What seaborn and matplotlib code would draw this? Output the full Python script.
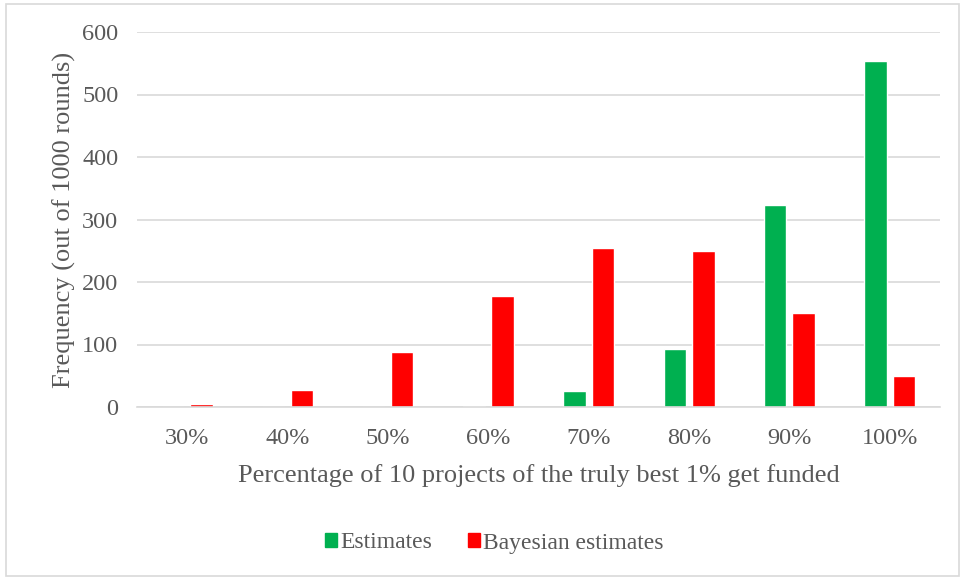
import matplotlib
matplotlib.use("Agg")
import matplotlib.pyplot as plt
import seaborn as sns
import pandas as pd
from matplotlib.patches import Rectangle

categories = ["30%", "40%", "50%", "60%", "70%", "80%", "90%", "100%"]
estimates = [0, 0, 0, 2, 26, 93, 324, 553]
bayesian = [5, 27, 88, 178, 254, 250, 150, 50]
series_names = ["Estimates", "Bayesian estimates"]
yticks = [0, 100, 200, 300, 400, 500, 600]

df = pd.DataFrame({
    "cat": categories * 2,
    "value": estimates + bayesian,
    "series": [series_names[0]] * len(categories) + [series_names[1]] * len(categories),
})

sns.set_theme(style="white")
plt.rcParams["font.family"] = ["Liberation Serif", "DejaVu Serif"]
txt = "#595959"

fig = plt.figure(figsize=(9.61, 5.77), dpi=100)
ax = fig.add_axes([137 / 961, 1 - 407 / 577, (940 - 137) / 961, (407 - 32) / 577])

sns.barplot(data=df, x="cat", y="value", hue="series", order=categories,
            hue_order=series_names, palette=["#00b050", "#ff0000"],
            width=0.568, gap=0.211, ax=ax, legend=False, saturation=1)

ax.set_ylim(0, 600)
ax.set_yticks(yticks)
ax.set_yticklabels([str(v) for v in yticks])
ax.yaxis.grid(True, color="#d9d9d9", linewidth=1.2)
ax.set_axisbelow(True)
for s in ["top", "right", "left"]:
    ax.spines[s].set_visible(False)
ax.spines["bottom"].set_color("#d9d9d9")
ax.spines["bottom"].set_linewidth(1.2)
ax.tick_params(axis="both", length=0, labelsize=17.5, colors=txt)
ax.tick_params(axis="y", pad=13.5)
ax.tick_params(axis="x", pad=15)
ax.set_xlabel("Percentage of 10 projects of the truly best 1% get funded",
              fontsize=19, color=txt, labelpad=11)
ax.set_ylabel("Frequency (out of 1000 rounds)", fontsize=19, color=txt, labelpad=4)

handles = [Rectangle((0, 0), 1, 1, color="#00b050"), Rectangle((0, 0), 1, 1, color="#ff0000")]
leg = fig.legend(handles, series_names, loc="center",
                 bbox_to_anchor=(0.5 + 14 / 961, 1 - 543 / 577),
                 ncol=2, frameon=False, fontsize=17, handlelength=0.5, handleheight=0.5,
                 handletextpad=0.15, columnspacing=1.5)
for t in leg.get_texts():
    t.set_color(txt)

fig.patches.append(Rectangle((6 / 961, 0.002), 953 / 961, 1 - 4 / 577 - 0.002,
                             transform=fig.transFigure, fill=False,
                             edgecolor="#d9d9d9", linewidth=1.2))

fig.savefig("out.png", dpi=100)
